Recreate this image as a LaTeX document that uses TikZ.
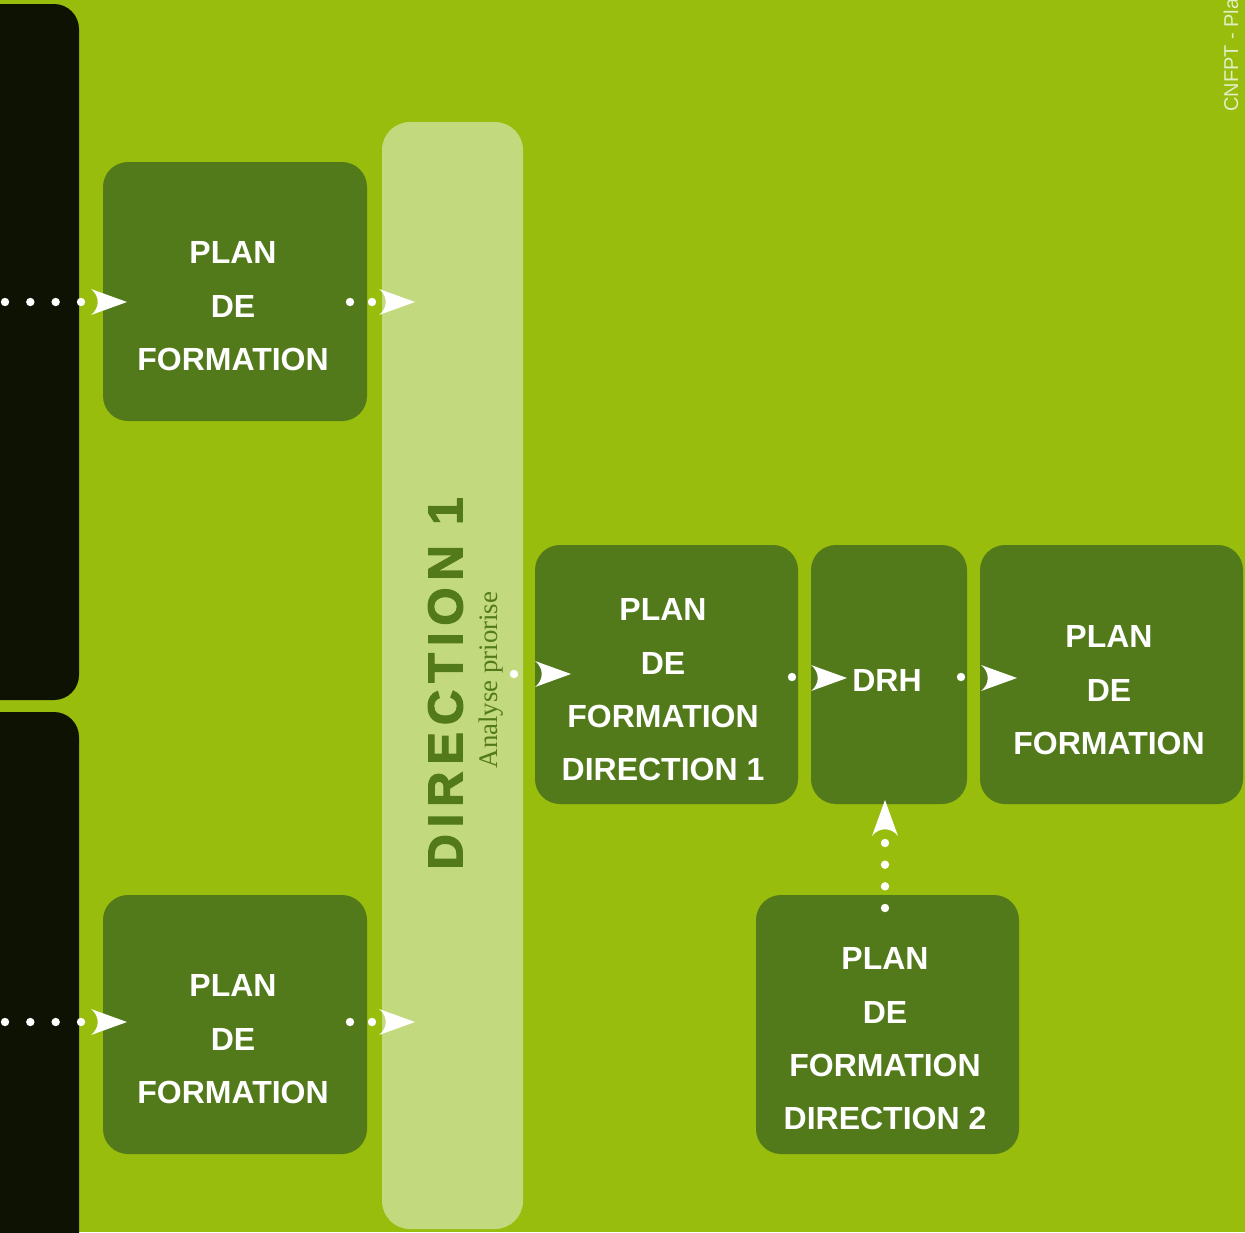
\documentclass[tikz,border=0pt]{standalone}
\usepackage{fontspec}
\setmainfont{Liberation Sans}
\newfontfamily\serifface{Liberation Serif}
\newfontfamily\trackedface[LetterSpace=14,FakeBold=2.5]{Liberation Sans Bold}
\usetikzlibrary{calc}

\definecolor{lime}{RGB}{153,189,13}
\definecolor{leaf}{RGB}{82,122,27}
\definecolor{pale}{RGB}{195,217,126}
\definecolor{ink}{RGB}{14,18,3}
\definecolor{mist}{RGB}{228,238,196}

\begin{document}
\begin{tikzpicture}[x=1pt,y=-1pt,
  panel/.style={fill=leaf, rounded corners=25pt, inner sep=0pt, outer sep=0pt},
  caption/.style={text=white, font=\bfseries\fontsize{32}{53.3}\selectfont,
    align=center, inner sep=0pt, anchor=north},
  wtip/.pic={\fill[white] (0,0) -- (-36,13) .. controls (-27,6) and (-27,-6) .. (-36,-13) -- cycle;}
]
% canvas
\useasboundingbox (0,0) rectangle (1245,1232);
\clip (0,0) rectangle (1245,1232);
\fill[lime] (0,0) rectangle (1245,1232);

% dark side columns
\node[panel, fill=ink, minimum width=129pt, minimum height=696pt] (colA) at (14.5,352) {};
\node[panel, fill=ink, minimum width=129pt, minimum height=560pt] (colB) at (14.5,992) {};

% pale band with its vertical titles
\node[panel, fill=pale, rounded corners=28pt, minimum width=141pt, minimum height=1107pt] (band) at (452.5,675.5) {};
\node[rotate=90, inner sep=0pt, text=leaf, font=\trackedface\fontsize{49}{49}\selectfont] (dir) at (445.5,683.5) {DIRECTION 1};
\node[rotate=90, inner sep=0pt, anchor=base, text=leaf, font=\serifface\fontsize{26.8}{26.8}\selectfont] (prio) at (497,680) {Analyse priorise};

% plan boxes
\node[panel, minimum width=264pt, minimum height=259pt] (b1) at (235,291.5) {};
\node[panel, minimum width=264pt, minimum height=259pt] (b2) at (235,1024.5) {};
\node[panel, minimum width=263pt, minimum height=259pt] (b3) at (666.5,674.5) {};
\node[panel, minimum width=156pt, minimum height=259pt] (drh) at (889,674.5) {};
\node[panel, minimum width=263pt, minimum height=259pt] (b5) at (1111.5,674.5) {};
\node[panel, minimum width=263pt, minimum height=259pt] (b6) at (887.5,1024.5) {};

\node[caption] (t1) at (233,241.7) {PLAN\\DE\\FORMATION};
\node[caption] (t2) at (233,974.7) {PLAN\\DE\\FORMATION};
\node[caption] (t3) at (663,598.7) {PLAN\\DE\\FORMATION\\DIRECTION 1};
\node[caption] (t4) at (887,669.7) {DRH};
\node[caption] (t5) at (1109,625.7) {PLAN\\DE\\FORMATION};
\node[caption] (t6) at (885,947.7) {PLAN\\DE\\FORMATION\\DIRECTION 2};

% corner credit
\node[rotate=90, anchor=base west, inner sep=0pt, text=mist, font=\fontsize{20}{20}\selectfont] (credit) at (1238,112) {CNFPT - Pla};

% flow connectors: runs of white dots ending in a white head
\coordinate (s1) at (5,302);    \coordinate (e1) at (81,302);   \coordinate (h1) at (127,302);
\coordinate (s2) at (350,302);  \coordinate (e2) at (372,302);  \coordinate (h2) at (415,302);
\coordinate (s3) at (5,1022);   \coordinate (e3) at (81,1022);  \coordinate (h3) at (127,1022);
\coordinate (s4) at (350,1022); \coordinate (e4) at (372,1022); \coordinate (h4) at (415,1022);
\coordinate (s5) at (514,674);  \coordinate (h5) at (571,674);
\coordinate (s6) at (792,677);  \coordinate (h6) at (847,678);
\coordinate (s7) at (961,677);  \coordinate (h7) at (1017,678);
\coordinate (s8) at (885,908);  \coordinate (e8) at (885,843);  \coordinate (h8) at (885,800);

\foreach \k in {0,...,3} \fill[white] ($(s1)!\k/3!(e1)$) circle (4.2);
\foreach \k in {0,1}     \fill[white] ($(s2)!\k!(e2)$) circle (4.2);
\foreach \k in {0,...,3} \fill[white] ($(s3)!\k/3!(e3)$) circle (4.2);
\foreach \k in {0,1}     \fill[white] ($(s4)!\k!(e4)$) circle (4.2);
\fill[white] (s5) circle (4.2);
\fill[white] (s6) circle (4.2);
\fill[white] (s7) circle (4.2);
\foreach \k in {0,...,3} \fill[white] ($(s8)!\k/3!(e8)$) circle (4.2);

\pic at (h1) {wtip};
\pic at (h2) {wtip};
\pic at (h3) {wtip};
\pic at (h4) {wtip};
\pic at (h5) {wtip};
\pic at (h6) {wtip};
\pic at (h7) {wtip};
\pic[rotate=90] at (h8) {wtip};
\end{tikzpicture}
\end{document}
